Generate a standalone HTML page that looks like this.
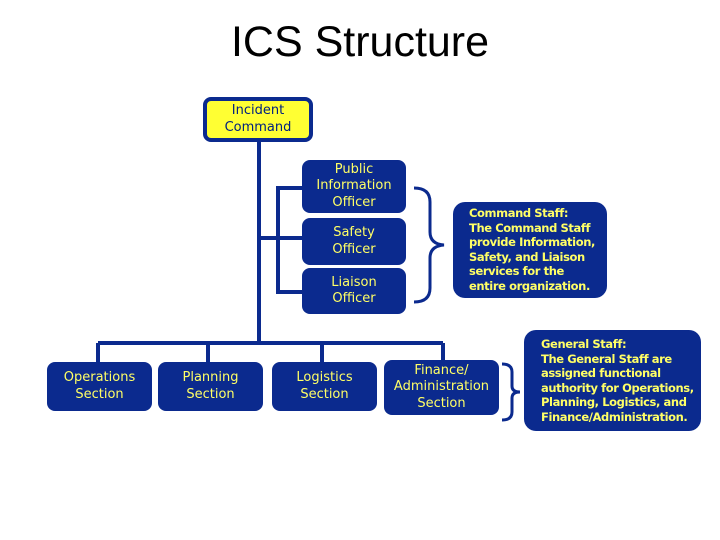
<!DOCTYPE html>
<html><head><style>
body{margin:0;width:720px;height:540px;background:#fff;position:relative;overflow:hidden;font-family:"DejaVu Sans","Liberation Sans",sans-serif}
.b{position:absolute;background:#0b2a8e;border-radius:8px;color:#ffff66;font-size:13px;line-height:16.5px;text-align:center;display:flex;align-items:center;justify-content:center;box-sizing:border-box}
.d{position:absolute;background:#0b2a8e;border-radius:12px;color:#ffff66;font-size:11.5px;line-height:14.5px;font-weight:bold;box-sizing:border-box;letter-spacing:-0.4px}
</style></head><body>
<div style="position:absolute;left:0;width:720px;top:15px;text-align:center;font-family:'Liberation Sans',sans-serif;font-size:43px;line-height:54px">ICS Structure</div>
<svg width="720" height="540" style="position:absolute;left:0;top:0" fill="none" stroke="#0b2a8e" stroke-width="4">
<path d="M259 140V345M98 343H443M98 343V364M208 343V364M322 343V364M443 343V360"/>
<path d="M259 238H304M304 188H278V292H304"/>
<path d="M414 188q16 0 16 14v30q0 12 14 13q-14 1-14 13v30q0 14-16 14" stroke-width="3"/>
<path d="M502 364q10 0 10 8v14q0 6 8 6q-8 0-8 6v14q0 8-10 8" stroke-width="3"/>
</svg>
<div class="b" style="left:203px;top:97px;width:110px;height:45px;background:#ffff33;border:4px solid #0b2a8e;color:#002080">Incident<br>Command</div>
<div class="b" style="left:302px;top:160px;width:104px;height:53px">Public<br>Information<br>Officer</div>
<div class="b" style="left:302px;top:218px;width:104px;height:47px">Safety<br>Officer</div>
<div class="b" style="left:302px;top:268px;width:104px;height:46px">Liaison<br>Officer</div>
<div class="d" style="left:453px;top:202px;width:154px;height:96px;padding:4px 0 0 16px">Command Staff:<br>The Command Staff<br>provide Information,<br>Safety, and Liaison<br>services for the<br>entire organization.</div>
<div class="b" style="left:47px;top:362px;width:105px;height:49px">Operations<br>Section</div>
<div class="b" style="left:158px;top:362px;width:105px;height:49px">Planning<br>Section</div>
<div class="b" style="left:272px;top:362px;width:105px;height:49px">Logistics<br>Section</div>
<div class="b" style="left:384px;top:360px;width:115px;height:55px">Finance/<br>Administration<br>Section</div>
<div class="d" style="left:524px;top:330px;width:177px;height:101px;padding:7px 0 0 17px">General Staff:<br>The General Staff are<br>assigned functional<br>authority for Operations,<br>Planning, Logistics, and<br>Finance/Administration.</div>
</body></html>
